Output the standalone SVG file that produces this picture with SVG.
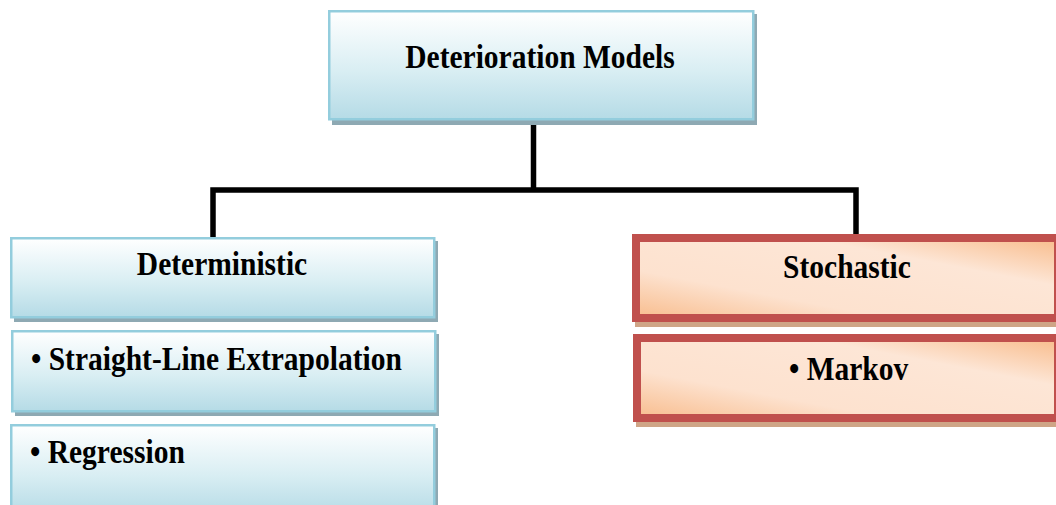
<svg xmlns="http://www.w3.org/2000/svg" width="1056" height="505" viewBox="0 0 1056 505">
  <defs>
    <linearGradient id="blueFill" x1="0" y1="0" x2="0" y2="1">
      <stop offset="0" stop-color="#ffffff"/>
      <stop offset="0.55" stop-color="#d9eef3"/>
      <stop offset="1" stop-color="#b5dbe6"/>
    </linearGradient>
    <linearGradient id="peachFill" x1="0" y1="1" x2="1" y2="0">
      <stop offset="0" stop-color="#f8bd8e"/>
      <stop offset="0.3" stop-color="#fde2cf"/>
      <stop offset="0.7" stop-color="#fde6d6"/>
      <stop offset="1" stop-color="#f8bb8a"/>
    </linearGradient>
    <style>
      .blue-shadow { fill: #8ea9b3; }
      .blue-box { fill: url(#blueFill); stroke: #93cddd; stroke-width: 2.5; }
      .red-shadow { fill: #cfa587; }
      .red-box { fill: url(#peachFill); stroke: #c0504d; stroke-width: 8; }
      .label { font-family: "Liberation Serif", "Times New Roman", serif; font-weight: bold; font-size: 29.5px; fill: #000; }
      .mid { text-anchor: middle; }
      .link { fill: none; stroke: #000; stroke-width: 5.5; }
    </style>
  </defs>

  <!-- tree connectors -->
  <g id="connectors">
    <path class="link" d="M533.5,124 V190"/>
    <path class="link" d="M213,238 V190 H856 V238"/>
  </g>

  <g id="root">
    <rect class="blue-shadow" x="332" y="14" width="425" height="111"/>
    <rect class="blue-box" x="329.25" y="11.25" width="424" height="108"/>
    <text class="label mid" transform="translate(540,68) scale(1,1.13)">Deterioration Models</text>
  </g>

  <g id="deterministic">
    <rect class="blue-shadow" x="14" y="241" width="424" height="81"/>
    <rect class="blue-box" x="11.25" y="238.25" width="423" height="79"/>
    <text class="label mid" transform="translate(222,275) scale(1,1.13)">Deterministic</text>
  </g>

  <g id="straight-line">
    <rect class="blue-shadow" x="15" y="334" width="424" height="82"/>
    <rect class="blue-box" x="12.25" y="331.25" width="423" height="80"/>
    <text class="label" transform="translate(31,370) scale(1,1.13)">• Straight-Line Extrapolation</text>
  </g>

  <g id="regression">
    <rect class="blue-shadow" x="13" y="428" width="425" height="90"/>
    <rect class="blue-box" x="11.25" y="425.25" width="423" height="90"/>
    <text class="label" transform="translate(30,463) scale(1,1.13)">• Regression</text>
  </g>

  <g id="stochastic">
    <rect class="red-shadow" x="635" y="237" width="430" height="90"/>
    <rect class="red-box" x="636" y="238" width="422" height="80"/>
    <text class="label mid" transform="translate(847,278) scale(1,1.13)">Stochastic</text>
  </g>

  <g id="markov">
    <rect class="red-shadow" x="636" y="338" width="430" height="89"/>
    <rect class="red-box" x="637" y="338" width="421" height="80"/>
    <text class="label" transform="translate(789,380) scale(1,1.13)">• Markov</text>
  </g>
</svg>
